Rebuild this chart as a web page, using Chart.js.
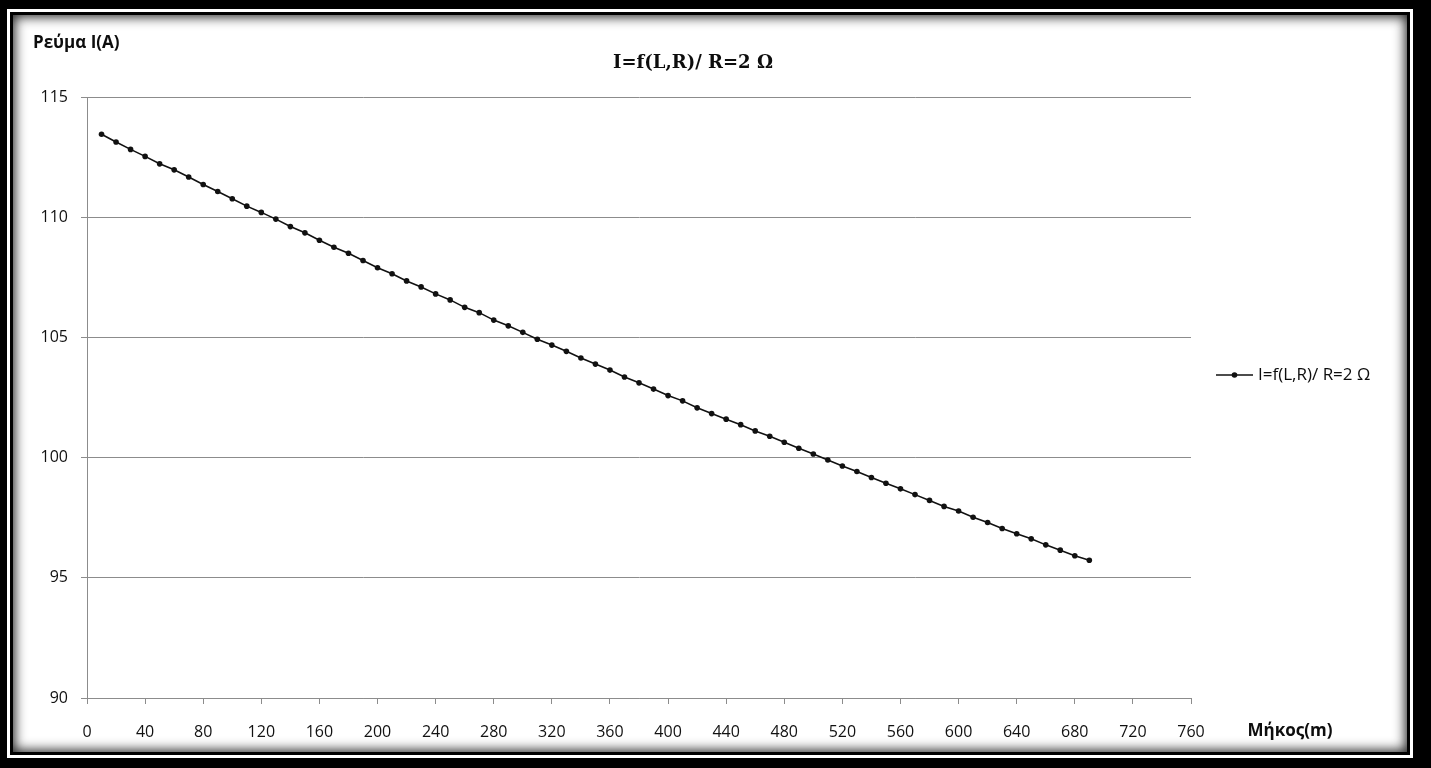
<!DOCTYPE html>
<html lang="el">
<head>
<meta charset="utf-8">
<title>I=f(L,R)/ R=2 Ω</title>
<script src="https://cdn.jsdelivr.net/npm/chart.js@4/dist/chart.umd.min.js"></script>
<style>
  html, body { margin: 0; padding: 0; }
  body { width: 1431px; height: 768px; background: #000; position: relative; overflow: hidden; }
  #rim { position: absolute; left: 7px; top: 9px; width: 1406px; height: 749px; border: 3px solid #fff; box-sizing: border-box; }
  #panel { position: absolute; left: 10px; top: 12px; width: 1400px; height: 743px; background: #fff;
           box-shadow: inset 0 0 0 3px #000, inset 0 0 12px 5px rgba(0,0,0,0.85); }
  #chart { position: absolute; left: 0; top: 0; }
</style>
</head>
<body>
<div id="rim"></div>
<div id="panel"></div>
<canvas id="chart" width="1431" height="768"></canvas>
<script>
// Cable length (m) and measured current (A)
const lengthsM = [10, 20, 30, 40, 50, 60, 70, 80, 90, 100,
  110, 120, 130, 140, 150, 160, 170, 180, 190, 200,
  210, 220, 230, 240, 250, 260, 270, 280, 290, 300,
  310, 320, 330, 340, 350, 360, 370, 380, 390, 400,
  410, 420, 430, 440, 450, 460, 470, 480, 490, 500,
  510, 520, 530, 540, 550, 560, 570, 580, 590, 600,
  610, 620, 630, 640, 650, 660, 670, 680, 690];
const currentA = [113.45, 113.13, 112.82, 112.53, 112.22, 111.97, 111.67, 111.36, 111.07, 110.77,
  110.46, 110.20, 109.92, 109.61, 109.35, 109.04, 108.75, 108.50, 108.20, 107.90,
  107.65, 107.35, 107.10, 106.81, 106.56, 106.25, 106.03, 105.72, 105.48, 105.21,
  104.92, 104.68, 104.42, 104.14, 103.89, 103.64, 103.35, 103.11, 102.85, 102.58,
  102.36, 102.07, 101.83, 101.60, 101.37, 101.11, 100.89, 100.64, 100.39, 100.15,
  99.90, 99.65, 99.42, 99.17, 98.93, 98.70, 98.46, 98.22, 97.97, 97.78,
  97.52, 97.30, 97.05, 96.83, 96.62, 96.37, 96.15, 95.92, 95.73];

const xTickValues = [0, 40, 80, 120, 160, 200, 240, 280, 320, 360, 400, 440, 480, 520, 560, 600, 640, 680, 720, 760];
const yTickValues = [90, 95, 100, 105, 110, 115];

const seriesLabel = 'I=f(L,R)/ R=2 Ω';
const chartTitle = 'I=f(L,R)/ R=2 Ω';
const yAxisTitle = 'Ρεύμα I(A)';
const xAxisTitle = 'Μήκος(m)';

const axisGrey = '#8c8c8c';
const tickFont = { family: '"Open Sans", sans-serif', size: 16 };

// Title, axis captions and the legend entry
const captions = {
  id: 'captions',
  afterDraw(chart) {
    const ctx = chart.ctx;
    ctx.save();
    ctx.fillStyle = '#0d0d0d';
    ctx.textBaseline = 'middle';

    ctx.font = 'bold 18px "DejaVu Serif", serif';
    ctx.textAlign = 'center';
    ctx.fillText(chartTitle, 693, 63);

    ctx.font = 'bold 17px "Open Sans", sans-serif';
    ctx.textAlign = 'left';
    ctx.fillText(yAxisTitle, 33, 43);
    ctx.textAlign = 'center';
    ctx.fillText(xAxisTitle, 1290, 731);

    const ds = chart.data.datasets[0];
    const ly = 375;
    ctx.strokeStyle = ds.borderColor;
    ctx.lineWidth = ds.borderWidth;
    ctx.beginPath();
    ctx.moveTo(1216, ly);
    ctx.lineTo(1253, ly);
    ctx.stroke();
    ctx.fillStyle = ds.pointBackgroundColor;
    ctx.beginPath();
    ctx.arc(1234.5, ly, ds.pointRadius, 0, Math.PI * 2);
    ctx.fill();
    ctx.fillStyle = '#0d0d0d';
    ctx.font = '17px "Open Sans", sans-serif';
    ctx.textAlign = 'left';
    ctx.fillText(ds.label, 1258, ly);
    ctx.restore();
  }
};

new Chart(document.getElementById('chart'), {
  type: 'line',
  data: {
    datasets: [{
      label: seriesLabel,
      data: lengthsM.map((x, i) => ({ x: x, y: currentA[i] })),
      borderColor: '#111',
      borderWidth: 1.6,
      pointRadius: 2.8,
      pointBackgroundColor: '#111',
      pointBorderWidth: 0,
      tension: 0,
      fill: false
    }]
  },
  options: {
    responsive: false,
    animation: false,
    devicePixelRatio: 1,
    layout: { padding: { left: 27, right: 240, top: 97, bottom: 20 } },
    plugins: {
      legend: { display: false },
      title: { display: false },
      tooltip: { enabled: false }
    },
    scales: {
      x: {
        type: 'linear',
        min: 0,
        max: 760,
        afterBuildTicks: s => { s.ticks = xTickValues.map(v => ({ value: v })); },
        afterFit: s => { s.height = 50; },
        grid: { drawOnChartArea: false, drawTicks: true, tickLength: 6, color: axisGrey, lineWidth: 1 },
        border: { color: axisGrey, width: 1 },
        ticks: { font: tickFont, color: '#111', padding: 19, maxRotation: 0, autoSkip: false }
      },
      y: {
        type: 'linear',
        min: 90,
        max: 115,
        afterBuildTicks: s => { s.ticks = yTickValues.map(v => ({ value: v })); },
        afterFit: s => { s.width = 60; },
        grid: { drawOnChartArea: true, drawTicks: true, tickLength: 6, color: axisGrey, lineWidth: 1 },
        border: { color: axisGrey, width: 1 },
        ticks: { font: tickFont, color: '#111', padding: 13, autoSkip: false }
      }
    }
  },
  plugins: [captions]
});
</script>
</body>
</html>
